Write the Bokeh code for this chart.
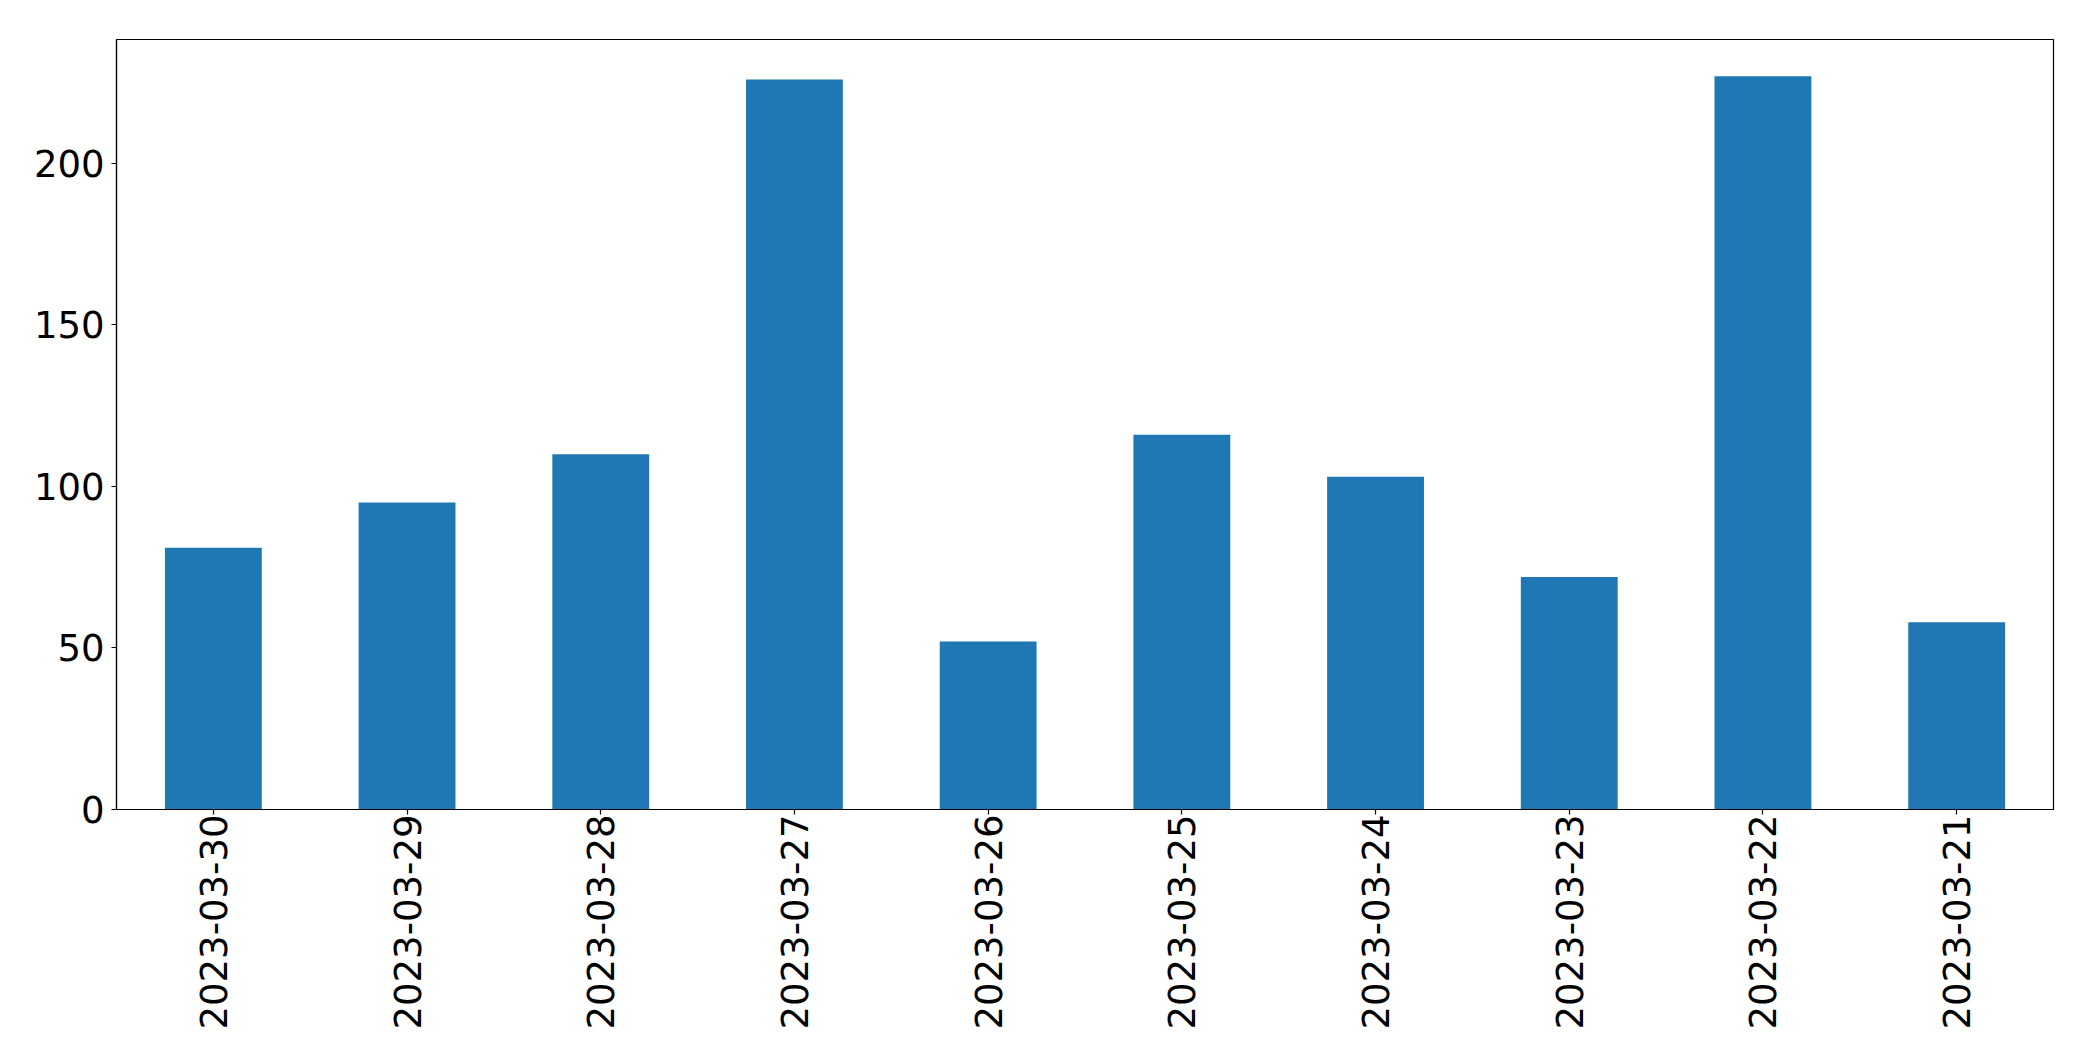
import math
from bokeh.plotting import figure
from bokeh.models import Range1d, FactorRange, FixedTicker
from bokeh.embed import file_html
from bokeh.resources import INLINE

dates = ["2023-03-30", "2023-03-29", "2023-03-28", "2023-03-27", "2023-03-26",
         "2023-03-25", "2023-03-24", "2023-03-23", "2023-03-22", "2023-03-21"]
counts = [81, 95, 110, 226, 52, 116, 103, 72, 227, 58]
y_ticks = [0, 50, 100, 150, 200]

p = figure(width=2093, height=1061, output_backend="svg", toolbar_location=None,
           x_range=FactorRange(factors=dates, range_padding=0),
           y_range=Range1d(0, max(counts) * 1.05),
           min_border_left=116, min_border_right=40, min_border_top=39, min_border_bottom=252)

p.vbar(x=dates, top=counts, width=0.5, color="#1f77b4", line_color=None)

p.xgrid.visible = False
p.ygrid.visible = False
p.outline_line_color = "black"
p.outline_line_width = 1.2
p.background_fill_color = "white"
p.border_fill_color = "white"

for ax in (p.xaxis, p.yaxis):
    ax.axis_line_color = "black"
    ax.axis_line_width = 1.2
    ax.major_tick_line_color = "black"
    ax.major_tick_line_width = 1.2
    ax.major_tick_out = 5
    ax.major_tick_in = 0
    ax.minor_tick_line_color = None
    ax.major_label_text_font = "DejaVu Sans"
    ax.major_label_text_font_size = "37px"
    ax.major_label_text_color = "black"

p.xaxis.major_label_orientation = math.pi / 2
p.xaxis.major_label_standoff = 0
p.yaxis.major_label_standoff = 7
p.yaxis.ticker = FixedTicker(ticks=y_ticks)

open("out.html", "w").write(file_html(p, INLINE))
